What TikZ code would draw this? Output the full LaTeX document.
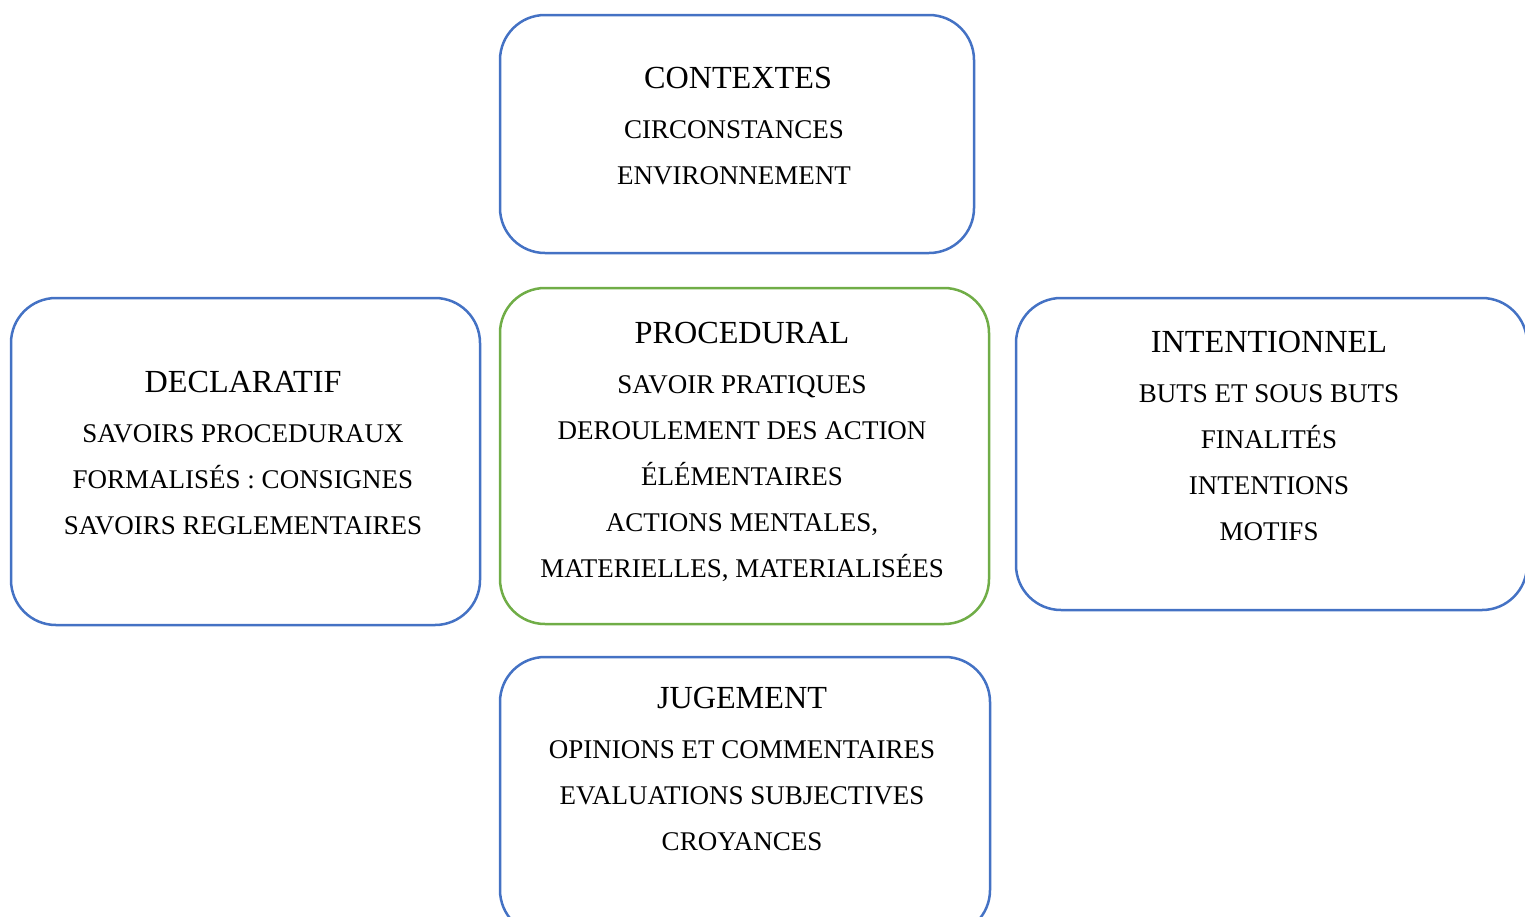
\documentclass[tikz,border=0pt]{standalone}
\usepackage{fontspec}
\setmainfont{Liberation Serif}
\definecolor{boxblue}{HTML}{4472C4}
\definecolor{boxgreen}{HTML}{70AD47}
\begin{document}
\begin{tikzpicture}[x=1pt,y=-1pt,
  box/.style={draw=boxblue,line width=2.5pt,rounded corners=45pt,
    rectangle,inner sep=0pt,outer sep=0pt},
  greenbox/.style={box,draw=boxgreen},
  ttl/.style={anchor=base,inner sep=0pt,font=\fontsize{32.2}{38}\selectfont},
  itm/.style={anchor=base,inner sep=0pt,font=\fontsize{27}{32}\selectfont}]
\useasboundingbox (0,0) rectangle (1525,916);
\clip (0,0) rectangle (1525,916);

% frames
\node[box,minimum width=474pt,minimum height=238pt] (ctx) at (737,134) {};
\node[box,minimum width=469pt,minimum height=327pt] (dec) at (245.5,461.5) {};
\node[greenbox,minimum width=489pt,minimum height=336pt] (proc) at (744.5,456) {};
\node[box,minimum width=511pt,minimum height=312pt] (intn) at (1271.5,454) {};
\node[box,minimum width=490pt,minimum height=278pt] (jug) at (745,796) {};

% CONTEXTES
\node[ttl] (ctx-t) at (738,88.6) {CONTEXTES};
\node[itm] (ctx-1) at (734,138.6) {CIRCONSTANCES};
\node[itm] (ctx-2) at (734,184.6) {ENVIRONNEMENT};

% DECLARATIF
\node[ttl] (dec-t) at (243,392.6) {DECLARATIF};
\node[itm] (dec-1) at (243,442.6) {SAVOIRS PROCEDURAUX};
\node[itm] (dec-2) at (243,488.6) {FORMALISÉS : CONSIGNES};
\node[itm] (dec-3) at (243,534.6) {SAVOIRS REGLEMENTAIRES};

% PROCEDURAL
\node[ttl] (proc-t) at (742,343.6) {PROCEDURAL};
\node[itm] (proc-1) at (742,393.6) {SAVOIR PRATIQUES};
\node[itm] (proc-2) at (742,439.6) {DEROULEMENT DES ACTION};
\node[itm] (proc-3) at (742,485.6) {ÉLÉMENTAIRES};
\node[itm] (proc-4) at (742,531.6) {ACTIONS MENTALES,};
\node[itm] (proc-5) at (742,577.6) {MATERIELLES, MATERIALISÉES};

% INTENTIONNEL
\node[ttl] (intn-t) at (1269,352.6) {INTENTIONNEL};
\node[itm] (intn-1) at (1269,402.6) {BUTS ET SOUS BUTS};
\node[itm] (intn-2) at (1269,448.6) {FINALITÉS};
\node[itm] (intn-3) at (1269,494.6) {INTENTIONS};
\node[itm] (intn-4) at (1269,540.6) {MOTIFS};

% JUGEMENT
\node[ttl] (jug-t) at (742,708.6) {JUGEMENT};
\node[itm] (jug-1) at (742,758.6) {OPINIONS ET COMMENTAIRES};
\node[itm] (jug-2) at (742,804.6) {EVALUATIONS SUBJECTIVES};
\node[itm] (jug-3) at (742,850.6) {CROYANCES};
\end{tikzpicture}
\end{document}
